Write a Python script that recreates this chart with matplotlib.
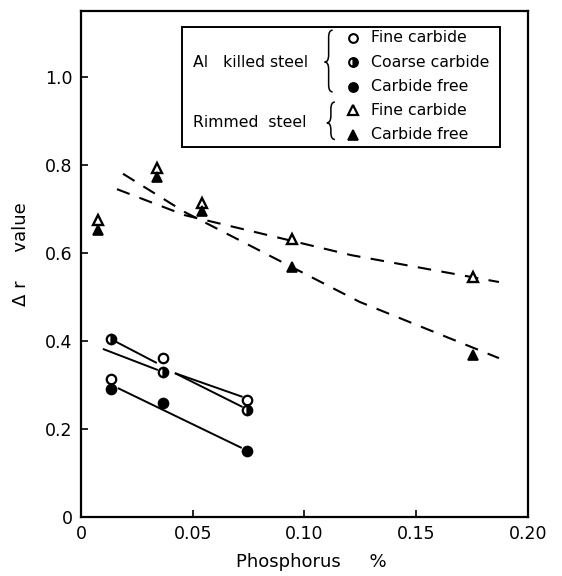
# delta-r value vs phosphorus content, Al killed and rimmed steel
import matplotlib
matplotlib.use("Agg")
import matplotlib.pyplot as plt
from matplotlib.path import Path
from matplotlib.patches import PathPatch, Rectangle

# Al killed steel (circles)
p_al = [0.0134, 0.0366, 0.0743]
al_fine = [0.314, 0.361, 0.266]
al_coarse = [0.405, 0.330, 0.243]
al_free = [0.291, 0.259, 0.150]

# fitted solid lines for Al killed steel (start/end)
al_fit_p = [(0.0150, 0.0339), (0.0098, 0.0344), (0.0420, 0.0723),
            (0.0420, 0.0723), (0.0165, 0.0719)]
al_fit_v = [(0.400, 0.350), (0.382, 0.334), (0.327, 0.273),
            (0.327, 0.250), (0.293, 0.157)]

# Rimmed steel (triangles)
p_rim = [0.0076, 0.0340, 0.0540, 0.0946, 0.1752]
rim_fine = [0.674, 0.793, 0.714, 0.631, 0.545]
rim_free = [0.652, 0.773, 0.695, 0.569, 0.368]

# dashed trend lines for rimmed steel
rim_fine_fit_p = [0.0161, 0.0464, 0.121, 0.187]
rim_fine_fit_v = [0.745, 0.686, 0.595, 0.534]
rim_free_fit_p = [0.0188, 0.0464, 0.1246, 0.187]
rim_free_fit_v = [0.780, 0.693, 0.489, 0.361]

xticks = [0, 0.05, 0.10, 0.15, 0.20]
xticklabels = ["0", "0.05", "0.10", "0.15", "0.20"]
yticks = [0, 0.2, 0.4, 0.6, 0.8, 1.0]
yticklabels = ["0", "0.2", "0.4", "0.6", "0.8", "1.0"]

plt.rcParams["font.family"] = ["DejaVu Sans"]

fig = plt.figure(figsize=(5.62, 5.76), dpi=100)
ax = fig.add_axes([0.1441, 0.1024, 0.7954, 0.8786])

# lines
for ps, vs in zip(al_fit_p, al_fit_v):
    ax.plot(ps, vs, color="black", lw=1.4, solid_capstyle="butt")
ax.plot(rim_fine_fit_p, rim_fine_fit_v, color="black", lw=1.5, dashes=(6.5, 5))
ax.plot(rim_free_fit_p, rim_free_fit_v, color="black", lw=1.5, dashes=(6.5, 5))

# markers
ms = 6.8
ax.plot(p_al, al_fine, "o", ms=ms, mfc="white", mec="black", mew=1.6, ls="none")
ax.plot(p_al, al_coarse, "o", ms=ms, mfc="black", mfcalt="white", fillstyle="right",
        mec="black", mew=1.6, ls="none")
ax.plot(p_al, al_free, "o", ms=ms, mfc="black", mec="black", mew=1.6, ls="none")
ax.plot(p_rim, rim_fine, "^", ms=7.8, mfc="white", mec="black", mew=1.7, ls="none")
ax.plot(p_rim, rim_free, "^", ms=7.8, mfc="black", mec="black", mew=1.2, ls="none")

ax.set_xlim(0, 0.20)
ax.set_ylim(0, 1.15)
ax.set_xticks(xticks)
ax.set_xticklabels(xticklabels)
ax.set_yticks(yticks)
ax.set_yticklabels(yticklabels)
ax.tick_params(direction="in", length=5, width=1.2, labelsize=12.5, pad=6)
for s in ax.spines.values():
    s.set_linewidth(1.6)

ax.set_xlabel("Phosphorus     %", fontsize=13)
ax.xaxis.set_label_coords(0.515, -0.071)
ax.set_ylabel("\u0394 r     value", fontsize=13)
ax.yaxis.set_label_coords(-0.113, 0.52)

# hand made legend box
ta = ax.transAxes
ax.add_patch(Rectangle((0.226, 0.731), 0.711, 0.237, transform=ta,
                       fill=False, lw=1.4, ec="black", zorder=5))

rows_y = [0.947, 0.899, 0.850, 0.804, 0.755]
labels = ["Fine carbide", "Coarse carbide", "Carbide free", "Fine carbide", "Carbide free"]
styles = [
    dict(marker="o", mfc="white", mec="black", ms=6.3, mew=1.5),
    dict(marker="o", mfc="black", mfcalt="white", fillstyle="right", mec="black", ms=6.3, mew=1.5),
    dict(marker="o", mfc="black", mec="black", ms=6.3, mew=1.5),
    dict(marker="^", mfc="white", mec="black", ms=7.2, mew=1.6),
    dict(marker="^", mfc="black", mec="black", ms=7.2, mew=1.2),
]
for y, lab, st in zip(rows_y, labels, styles):
    ax.plot([0.608], [y], transform=ta, ls="none", clip_on=False, zorder=6, **st)
    ax.text(0.648, y, lab, transform=ta, fontsize=11.3, va="center", ha="left")

ax.text(0.251, 0.899, "Al   killed steel", transform=ta, fontsize=11.3, va="center", ha="left")
ax.text(0.251, 0.779, "Rimmed  steel", transform=ta, fontsize=11.3, va="center", ha="left")


def brace(x, ytop, ybot, ymid, w=0.018):
    # curly brace opening to the right, tip pointing left
    xm = x + w * 0.5
    xr = x + w
    dy = 0.014
    verts = [(xr, ytop), (xm, ytop), (xm, ytop - dy), (xm, ytop - dy),
             (xm, ymid + dy), (xm, ymid), (x, ymid),
             (xm, ymid), (xm, ymid - dy), (xm, ymid - dy),
             (xm, ybot + dy), (xm, ybot), (xr, ybot)]
    codes = [Path.MOVETO, Path.CURVE3, Path.CURVE3, Path.LINETO,
             Path.LINETO, Path.CURVE3, Path.CURVE3,
             Path.CURVE3, Path.CURVE3, Path.LINETO,
             Path.LINETO, Path.CURVE3, Path.CURVE3]
    ax.add_patch(PathPatch(Path(verts, codes), transform=ta, fill=False,
                           lw=1.1, ec="black", zorder=6))


brace(0.545, 0.962, 0.840, 0.899)
brace(0.550, 0.820, 0.746, 0.779)

fig.savefig("out.png", dpi=100)
